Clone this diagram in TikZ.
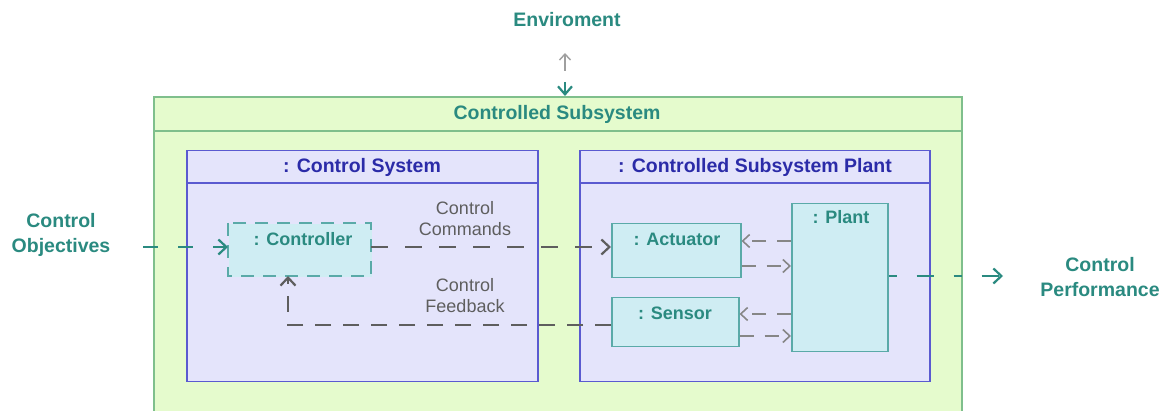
\documentclass[tikz,border=0pt]{standalone}
\usepackage{fontspec}
\setmainfont{Liberation Sans}
\usetikzlibrary{arrows.meta}
\definecolor{gfill}{HTML}{E5FBCD}
\definecolor{gline}{HTML}{7FBF8C}
\definecolor{lfill}{HTML}{E4E4FB}
\definecolor{lline}{HTML}{5A5AD0}
\definecolor{cfill}{HTML}{CFEDF3}
\definecolor{cline}{HTML}{5AAAA8}
\definecolor{teal}{HTML}{2A8A80}
\definecolor{navy}{HTML}{2B2BA8}
\definecolor{dgray}{HTML}{5E5E5E}
\tikzset{
  ext/.style={text=teal, font=\fontsize{19.5}{25}\selectfont\bfseries, align=center},
  hdr/.style={font=\fontsize{19.5}{22}\selectfont\bfseries},
  comp/.style={text=teal, font=\fontsize{18}{20}\selectfont\bfseries},
  lbl/.style={text=dgray, font=\fontsize{18}{21}\selectfont, align=center},
  partbox/.style={draw=cline, fill=cfill, line width=1.5pt, anchor=north west, inner sep=0pt},
  frame/.style={draw=lline, fill=lfill, line width=1.5pt, anchor=north west, inner sep=0pt},
  garrow/.style={draw=dgray, line width=2.4pt, dash pattern=on 17pt off 17pt, -{Straight Barb[length=8pt,width=15pt,line width=2.2pt]}},
  sarrow/.style={draw=dgray!75, line width=1.8pt, dash pattern=on 14pt off 11pt, -{Straight Barb[length=7pt,width=13pt,line width=1.6pt]}},
  tarrow/.style={draw=teal, line width=2.2pt, dash pattern=on 15pt off 20pt, -{Straight Barb[length=8pt,width=15pt,line width=2.2pt]}},
}
\begin{document}
\begin{tikzpicture}[x=1pt,y=-1pt]
\useasboundingbox (0,0) rectangle (1162,411);
\clip (0,0) rectangle (1162,411);
\fill[white] (0,0) rectangle (1162,411);
% outer green
\node[draw=gline, fill=gfill, line width=1.8pt, anchor=north west, inner sep=0pt, minimum width=808pt, minimum height=330pt] (css) at (153,96) {};
\draw[gline, line width=1.8pt] (153,131) -- (961,131);
\node[hdr, text=teal] (csst) at (557,114) {Controlled Subsystem};
% control system
\node[frame, minimum width=351pt, minimum height=231pt] (cs) at (186,150) {};
\draw[lline, line width=1.5pt] (186,183) -- (537,183);
\node[hdr, text=navy] (cst) at (362,167) {: Control System};
% plant subsystem
\node[frame, minimum width=350pt, minimum height=231pt] (csp) at (579,150) {};
\draw[lline, line width=1.5pt] (579,183) -- (929,183);
\node[hdr, text=navy] (cspt) at (755,167) {: Controlled Subsystem Plant};
% parts
\node[partbox, draw=none, minimum width=143pt, minimum height=53pt] (ctrl) at (228,223) {};
\draw[cline, line width=1.5pt, dash pattern=on 13pt off 9pt] (228,223) rectangle (371,276);
\node[comp] (ctrlt) at (303,239) {: Controller};
\node[partbox, minimum width=129pt, minimum height=54pt] (act) at (611,223) {};
\node[comp] (actt) at (677,239) {: Actuator};
\node[partbox, minimum width=127pt, minimum height=49pt] (sen) at (611,297) {};
\node[comp] (sent) at (675,313) {: Sensor};
\node[partbox, minimum width=96pt, minimum height=148pt] (plant) at (791,203) {};
\node[comp] (plantt) at (841,217) {: Plant};
% external labels
\node[ext] (env) at (567,20) {Enviroment};
\node[ext] (obj) at (61,235) {Control\\Objectives};
\node[ext] (perf) at (1100,277) {Control\\Performance};
% env arrows
\coordinate (e1) at (565,71);
\coordinate (e2) at (565,53);
\coordinate (e3) at (565,82);
\draw[draw=gray!75, line width=1.4pt, -{Straight Barb[length=6pt,width=11pt,line width=1.4pt]}] (e1) -- (e2);
\draw[draw=teal, line width=2.2pt, -{Straight Barb[length=8pt,width=14pt,line width=2.2pt]}] (e3) -- (css.north -| e3);
% objectives
\coordinate (o1) at (143,247);
\draw[tarrow] (o1) -- (o1 -| ctrl.west);
% commands
\draw[garrow] (371,247) -- (611,247);
\node[lbl] (cmdl) at (465,219) {Control\\Commands};
% feedback
\draw[garrow, dash pattern=on 16pt off 12pt] (sen.west |- 0,325) -- (288,325) -- (288,276);
\node[lbl] (fbl) at (465,296) {Control\\Feedback};
% plant links
\draw[sarrow] (plant.west |- 0,241) -- (act.east |- 0,241);
\draw[sarrow] (act.east |- 0,266) -- (plant.west |- 0,266);
\draw[sarrow] (plant.west |- 0,314) -- (sen.east |- 0,314);
\draw[sarrow] (sen.east |- 0,336) -- (plant.west |- 0,336);
% performance
\draw[tarrow, dash pattern=on 8pt off 20pt on 17pt off 20pt] (plant.east |- 0,276) -- (1003,276);
\end{tikzpicture}
\end{document}
